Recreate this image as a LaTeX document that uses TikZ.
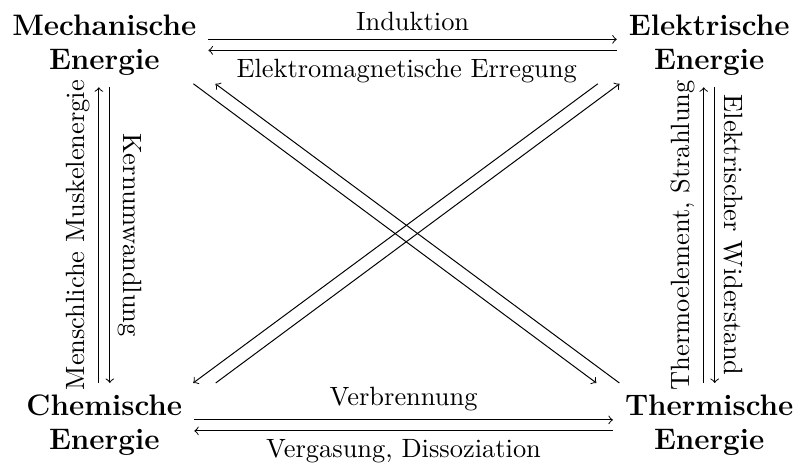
\documentclass[tikz,border=0pt]{standalone}
\usetikzlibrary{calc}
\begin{document}
\begin{tikzpicture}[x=0.40486pt,y=-0.40486pt,
  energy/.style={font={\fontsize{12}{13.8}\selectfont\bfseries}, align=center, inner sep=4.7pt},
  conn/.style={->},
  lbl/.style={font={\fontsize{10.7}{13}\selectfont}}]
\useasboundingbox (0,0) rectangle (795,466);
\node[energy] (m) at (104.3,44.9) {Mechanische\\Energie};
\node[energy] (e) at (709.2,44.9) {Elektrische\\Energie};
\node[energy] (c) at (104.3,425.4) {Chemische\\Energie};
\node[energy] (t) at (709.2,425.4) {Thermische\\Energie};
% horizontal
\draw[conn] ($(m.east)+(0,-5.5)$) -- node[lbl,above]{Induktion} ($(e.west)+(0,-5.5)$);
\draw[conn] ($(e.west)+(0,5.5)$) -- node[lbl,below,xshift=-2.4pt]{Elektromagnetische Erregung} ($(m.east)+(0,5.5)$);
\draw[conn] ($(c.east)+(0,-5.5)$) -- node[lbl,above]{Verbrennung} ($(t.west)+(0,-5.5)$);
\draw[conn] ($(t.west)+(0,5.5)$) -- node[lbl,below]{Vergasung, Dissoziation} ($(c.east)+(0,5.5)$);
% vertical
\draw[conn] ($(c.north)+(-5.5,0)$) -- node[lbl,rotate=90,anchor=south]{Menschliche Muskelenergie} ($(m.south)+(-5.5,0)$);
\draw[conn] ($(m.south)+(5.5,0)$) -- node[lbl,rotate=-90,anchor=south]{Kernumwandlung} ($(c.north)+(5.5,0)$);
\draw[conn] ($(t.north)+(-5.5,0)$) -- node[lbl,rotate=90,anchor=south]{Thermoelement, Strahlung} ($(e.south)+(-5.5,0)$);
\draw[conn] ($(e.south)+(5.5,0)$) -- node[lbl,rotate=-90,anchor=south]{Elektrischer Widerstand} ($(t.north)+(5.5,0)$);
% diagonals
\draw[conn] ($(m.south east)+(-15,-3.5)$) -- ($(t.north west)+(-16.5,0)$);
\draw[conn] ($(t.north west)+(6.5,0)$) -- ($(m.south east)+(7,-3.5)$);
\draw[conn] ($(e.south west)+(-19,-3.5)$) -- ($(c.north east)+(-1,0)$);
\draw[conn] ($(c.north east)+(21.5,0)$) -- ($(e.south west)+(2.7,-3.5)$);
\end{tikzpicture}
\end{document}
